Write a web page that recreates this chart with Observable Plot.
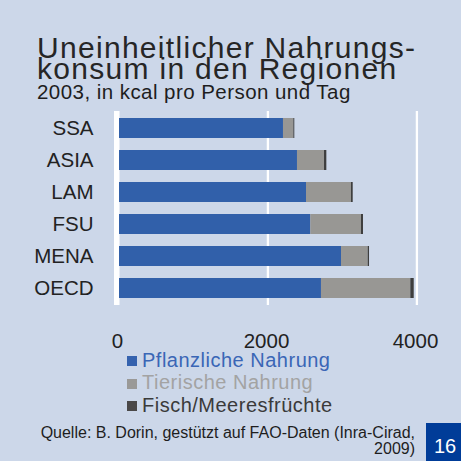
<!DOCTYPE html>
<html>
<head>
<meta charset="utf-8">
<script src="https://cdn.jsdelivr.net/npm/d3@7"></script>
<script src="https://cdn.jsdelivr.net/npm/@observablehq/plot@0.6"></script>
<style>
  html, body { margin: 0; padding: 0; background: #ccd7e9; }
  #wrap { position: relative; width: 461px; height: 461px; overflow: hidden; background: #ccd7e9;
          font-family: "Liberation Sans", Arial, sans-serif; color: #222; }
  .abs { position: absolute; white-space: nowrap; }
  .t1 { font-size: 30px; line-height: 21.5px; letter-spacing: 1.3px; color: #262626; }
  .sub { font-size: 20.5px; line-height: 16px; letter-spacing: 0.45px; color: #1e1e1e; }
  .leg { font-size: 20px; line-height: 14px; letter-spacing: 0.5px; }
  .sw { position: absolute; width: 10px; height: 10px; }
  .cap { font-size: 16px; line-height: 15.5px; color: #1e1e1e; text-align: right; }
  #chart { position: absolute; left: 0; top: 100px; }
  #page { position: absolute; left: 426px; top: 423px; width: 35px; height: 38px; background: #003c98;
          color: #fff; font-size: 20px; line-height: 20px; text-align: center; }
</style>
</head>
<body>
<div id="wrap">
  <div class="abs t1" style="left:37px;top:36.9px">Uneinheitlicher Nahrungs-<br>konsum in den Regionen</div>
  <div class="abs sub" style="left:37px;top:84.4px">2003, in kcal pro Person und Tag</div>
  <div id="chart"></div>
  <div id="legend"></div>
  <div class="abs cap" style="right:46px;top:425px">Quelle: B. Dorin, gestützt auf FAO-Daten (Inra-Cirad,<br>2009)</div>
  <div id="page"><div style="position:absolute;left:0;right:0;top:13.4px;padding-left:3px">16</div></div>
</div>
<script>
// ---- data ----
const regions = ["SSA", "ASIA", "LAM", "FSU", "MENA", "OECD"];
const pflanzlich = [2201, 2389, 2510, 2568, 2980, 2711];
const tierisch = [139, 363, 604, 680, 358, 1199];
const fisch = [13, 31, 23, 27, 18, 46];
const seriesNames = ["Pflanzliche Nahrung", "Tierische Nahrung", "Fisch/Meeresfrüchte"];
const xTicks = [0, 2000, 4000];

const seriesValues = [pflanzlich, tierisch, fisch];
const rows = [];
seriesNames.forEach((s, si) => {
  regions.forEach((r, ri) => rows.push({region: r, series: s, value: seriesValues[si][ri]}));
});

const barColors = ["#3160aa", "#989794", "#3e3e3e"];

const chart = Plot.plot({
  width: 461,
  height: 256,
  marginLeft: 119,
  marginRight: 44,
  marginTop: 4.5,
  marginBottom: 44,
  style: {background: "transparent", fontFamily: "Liberation Sans, Arial, sans-serif", fontSize: "20.5px", color: "#222", overflow: "visible"},
  x: {domain: [0, 4000], ticks: xTicks, label: null},
  y: {domain: regions, padding: 0.385, label: null},
  color: {domain: seriesNames, range: barColors},
  marks: [
    Plot.ruleX([xTicks[0]], {stroke: "white", strokeWidth: 5.5, dx: -2.75, insetTop: 6.5, insetBottom: 7}),
    Plot.ruleX(xTicks.slice(1), {stroke: "white", strokeWidth: 2.3, dx: -0.6, insetTop: 6.5, insetBottom: 7}),
    Plot.barX(rows, Plot.stackX({y: "region", x: "value", fill: "series"})),
    Plot.axisX({ticks: xTicks, tickSize: 0, tickPadding: 21, dx: -2, tickFormat: d => String(d), label: null}),
    Plot.axisY({tickSize: 0, tickPadding: 26, label: null})
  ]
});
document.getElementById("chart").appendChild(chart);

// ---- legend ----
const legendText = ["#3a66b6", "#a3a3a3", "#3a3a3a"];
const legendSwatch = ["#3562ae", "#9a9997", "#4a4848"];
const leg = document.getElementById("legend");
seriesNames.forEach((s, i) => {
  const sw = document.createElement("div");
  sw.className = "sw";
  sw.style.left = "127px";
  sw.style.top = (356 + i * 22.5) + "px";
  sw.style.background = legendSwatch[i];
  leg.appendChild(sw);
  const t = document.createElement("div");
  t.className = "abs leg";
  t.style.left = "142px";
  t.style.top = (352.6 + i * 22.5) + "px";
  t.style.color = legendText[i];
  t.textContent = s;
  leg.appendChild(t);
});
</script>
</body>
</html>
